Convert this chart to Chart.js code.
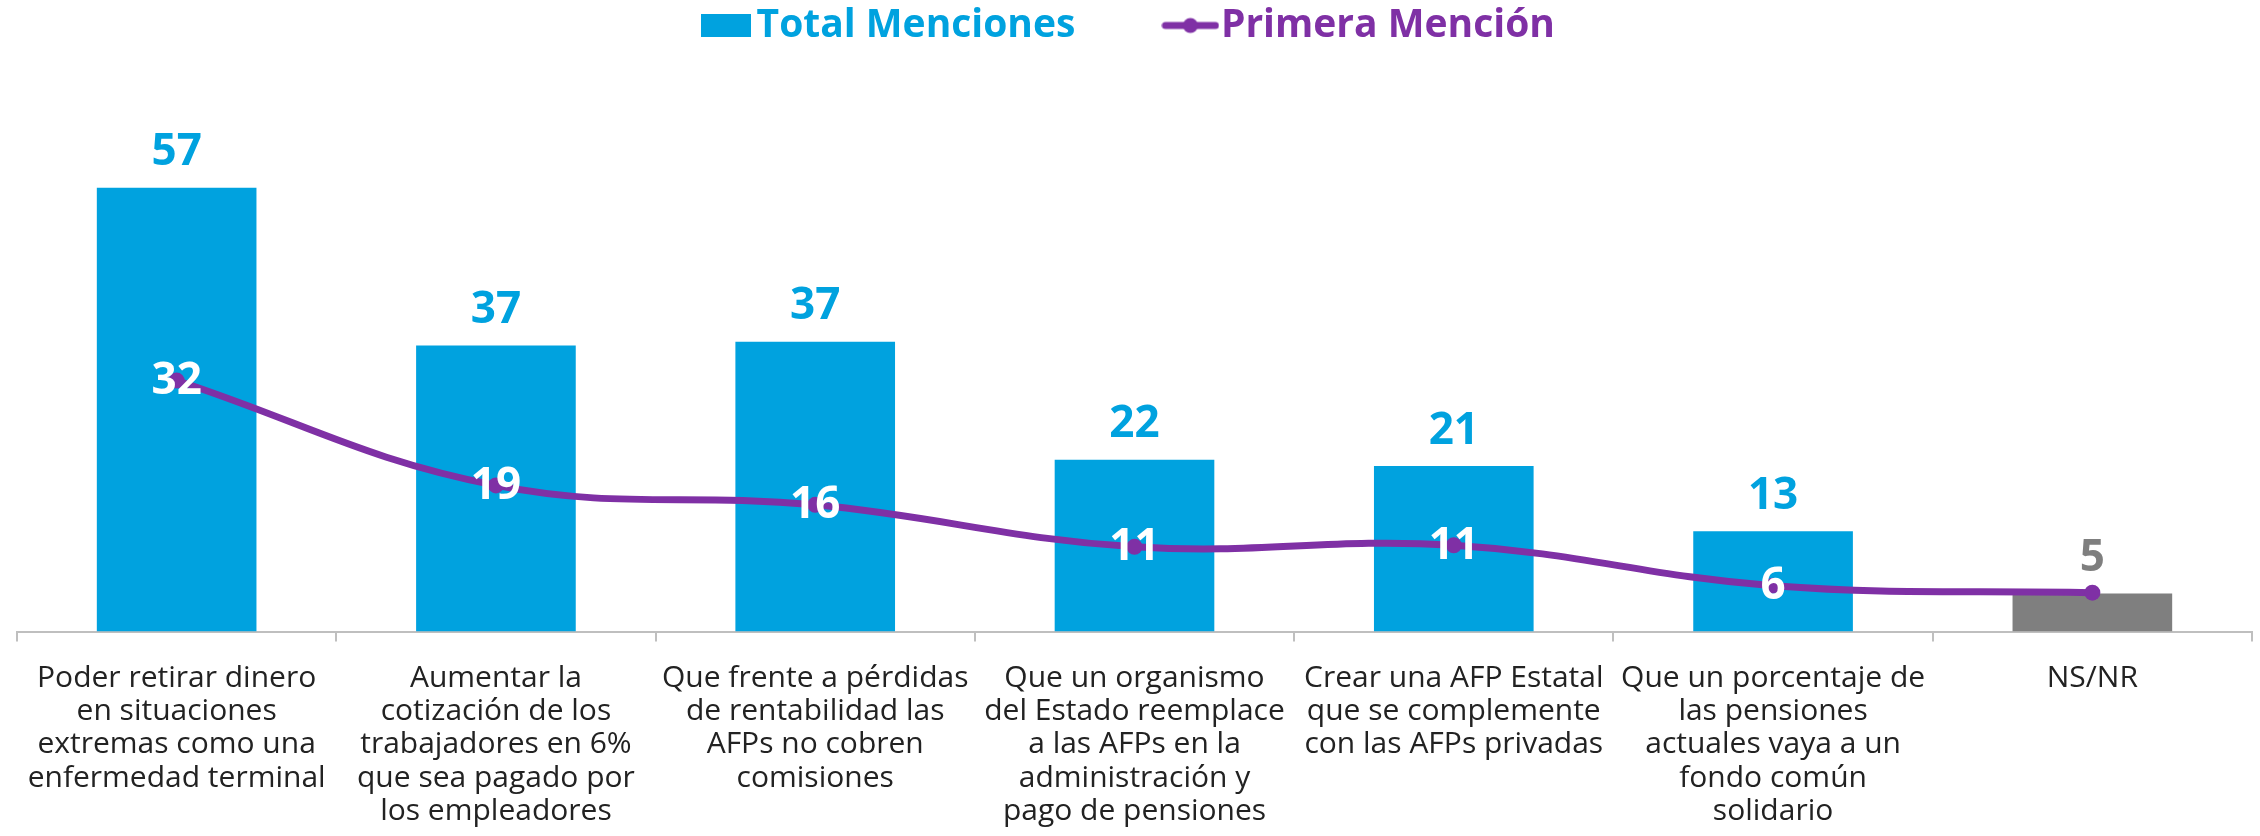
<!DOCTYPE html>
<html>
<head>
<meta charset="utf-8">
<script src="https://cdn.jsdelivr.net/npm/chart.js@4.4.0/dist/chart.umd.min.js"></script>
<style>
html,body{margin:0;padding:0;background:#ffffff;}
#wrap{width:2260px;height:836px;position:relative;}
</style>
</head>
<body>
<div id="wrap"><canvas id="c" width="2260" height="836"></canvas></div>
<script>
const categories = [
  ["Poder retirar dinero","en situaciones","extremas como una","enfermedad terminal"],
  ["Aumentar la","cotización de los","trabajadores en 6%","que sea pagado por","los empleadores"],
  ["Que frente a pérdidas","de rentabilidad las","AFPs no cobren","comisiones"],
  ["Que un organismo","del Estado reemplace","a las AFPs en la","administración y","pago de pensiones"],
  ["Crear una AFP Estatal","que se complemente","con las AFPs privadas"],
  ["Que un porcentaje de","las pensiones","actuales vaya a un","fondo común","solidario"],
  ["NS/NR"]
];
const totalMenciones = [57.1, 36.8, 37.3, 22.1, 21.3, 12.9, 4.9];
const primeraMencion = [32.3, 18.8, 16.3, 10.9, 11.1, 5.9, 5.0];
const seriesNames = ["Total Menciones", "Primera Mención"];
const grayCategory = "NS/NR";

const BLUE = '#00A2DF', PURPLE = '#7F30A5', GRAY = '#7F7F7F';
const isGray = categories.map(c => c.join(' ') === grayCategory);
const barColors = isGray.map(g => g ? GRAY : BLUE);
const FONT = '"Open Sans", "DejaVu Sans", sans-serif';

function boxImg(){
  const c = document.createElement('canvas'); c.width = 50; c.height = 23;
  const x = c.getContext('2d'); x.fillStyle = BLUE; x.fillRect(0,0,50,23); return c;
}
function lineImg(){
  const c = document.createElement('canvas'); c.width = 58; c.height = 18;
  const x = c.getContext('2d');
  x.strokeStyle = PURPLE; x.lineWidth = 7; x.lineCap = 'round';
  x.beginPath(); x.moveTo(4,9); x.lineTo(54,9); x.stroke();
  x.fillStyle = PURPLE; x.beginPath(); x.arc(29,9,7.5,0,Math.PI*2); x.fill();
  return c;
}

const valueLabels = {
  id: 'valueLabels',
  afterDatasetsDraw(chart){
    const ctx = chart.ctx;
    ctx.save();
    ctx.textAlign = 'center';
    ctx.textBaseline = 'middle';
    ctx.font = 'bold 44px ' + FONT;
    chart.getDatasetMeta(0).data.forEach((el, i) => {
      ctx.fillStyle = barColors[i];
      ctx.fillText(String(Math.round(totalMenciones[i])), el.x, el.y - 35);
    });
    ctx.fillStyle = '#ffffff';
    chart.getDatasetMeta(1).data.forEach((el, i) => {
      if (isGray[i]) return;
      ctx.fillText(String(Math.round(primeraMencion[i])), el.x, el.y + 1);
    });
    ctx.restore();
  }
};

new Chart(document.getElementById('c'), {
  data: {
    labels: categories,
    datasets: [
      {
        type: 'bar',
        label: seriesNames[0],
        data: totalMenciones,
        backgroundColor: barColors,
        borderWidth: 0,
        barPercentage: 0.5,
        categoryPercentage: 1.0,
        order: 2
      },
      {
        type: 'line',
        label: seriesNames[1],
        data: primeraMencion,
        borderColor: PURPLE,
        backgroundColor: PURPLE,
        borderWidth: 7,
        tension: 0.4,
        pointRadius: 8,
        pointHoverRadius: 8,
        pointBackgroundColor: PURPLE,
        pointBorderWidth: 0,
        order: 1
      }
    ]
  },
  options: {
    responsive: false,
    animation: false,
    devicePixelRatio: 1,
    layout: { padding: { top: -98, left: 17, right: 7, bottom: -12 } },
    plugins: {
      tooltip: { enabled: false },
      legend: {
        position: 'top',
        align: 'center',
        labels: {
          usePointStyle: true,
          pointStyleWidth: 22,
          padding: 104,
          font: { family: FONT, weight: 'bold', size: 39 },
          generateLabels(chart){
            return chart.data.datasets.map((ds, i) => ({
              text: ds.label,
              fontColor: i === 0 ? BLUE : PURPLE,
              fillStyle: i === 0 ? BLUE : PURPLE,
              strokeStyle: i === 0 ? BLUE : PURPLE,
              lineWidth: 0,
              pointStyle: i === 0 ? boxImg() : lineImg(),
              hidden: false,
              datasetIndex: i
            }));
          }
        }
      }
    },
    scales: {
      x: {
        offset: true,
        grid: {
          display: true,
          offset: true,
          drawOnChartArea: false,
          drawTicks: true,
          tickLength: 10,
          color: '#BFBFBF',
          lineWidth: 2
        },
        border: { display: true, color: '#BFBFBF', width: 2 },
        ticks: {
          autoSkip: false,
          maxRotation: 0,
          minRotation: 0,
          padding: 20,
          color: '#222222',
          font: { family: FONT, size: 30, lineHeight: 1.11 }
        }
      },
      y: {
        display: false,
        min: 0,
        max: 74.2
      }
    }
  },
  plugins: [valueLabels]
});
</script>
</body>
</html>
